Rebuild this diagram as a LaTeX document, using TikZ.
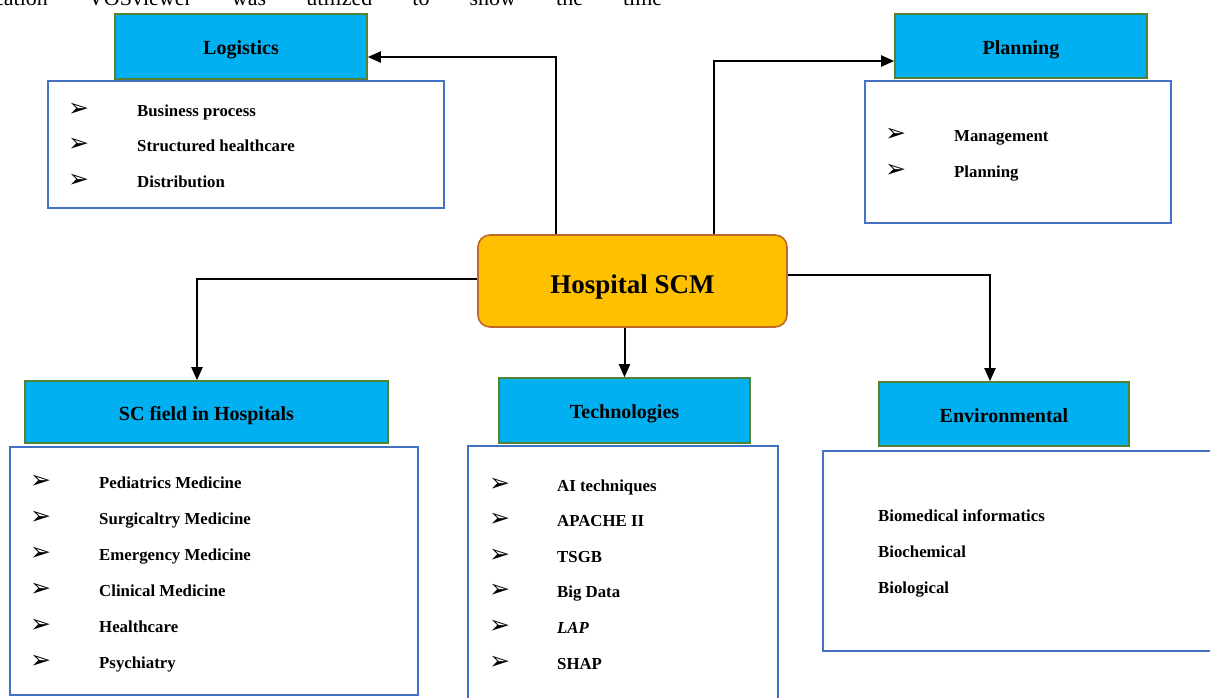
\documentclass[tikz,border=0pt]{standalone}
\usepackage{fontspec}
\setmainfont{Liberation Serif}
\newfontfamily\dingfont{DejaVu Sans}
\usepackage{tikz}
\usetikzlibrary{arrows.meta, positioning}
\definecolor{HDRcyan}{RGB}{0,176,240}
\definecolor{HDRgreen}{RGB}{84,130,53}
\definecolor{LSTblue}{RGB}{68,114,196}
\definecolor{HUBgold}{RGB}{255,192,0}
\definecolor{HUBbrown}{RGB}{192,103,43}
\newcommand{\itembullet}{{\dingfont\char"27A2}}

\begin{document}
\begin{tikzpicture}[x=1pt, y=-1pt,
    hdr/.style={draw=HDRgreen, fill=HDRcyan, line width=1.6pt, text height=18pt, text depth=2pt, font=\fontsize{20}{24}\selectfont\bfseries},
    lstbox/.style={draw=LSTblue, line width=1.6pt, fill=white},
    hub/.style={draw=HUBbrown, fill=HUBgold, line width=1.6pt, rounded corners=12pt, text height=26pt, text depth=2pt, font=\fontsize{27}{32}\selectfont\bfseries},
    itm/.style={anchor=base west, inner sep=0pt, font=\fontsize{16.8}{20}\selectfont\bfseries},
    bul/.style={anchor=base west, inner sep=0pt, font=\fontsize{25}{28}\selectfont},
    arr/.style={-{Triangle[length=13pt,width=11pt]}, line width=2pt}]
  \useasboundingbox (0,0) rectangle (1210,697);
  \clip (0,0) rectangle (1210,697);
  % text line of the page above the figure
  \node[anchor=base west, inner sep=0pt, font=\fontsize{22}{26}\selectfont] (pagetext) at (-6,5)
    {\hbox to 668pt{cation\hfill VOSviewer\hfill was\hfill utilized\hfill to\hfill show\hfill the\hfill time}};

  % list boxes
  \node[lstbox, minimum width=396, minimum height=127] (logilist) at (246,144.5) {};
  \node[lstbox, minimum width=306, minimum height=142] (planlist) at (1018,152) {};
  \node[lstbox, minimum width=408, minimum height=248] (sclist) at (214,571) {};
  \node[lstbox, minimum width=310, minimum height=260] (techlist) at (623,576) {};
  \node[lstbox, minimum width=400, minimum height=200] (envlist) at (1023,551) {};

  % headers
  \node[hdr, minimum width=252, minimum height=65] (logi) at (241,46.5) {Logistics};
  \node[hdr, minimum width=252, minimum height=64] (plan) at (1021,46) {Planning};
  \node[hdr, minimum width=363, minimum height=62] (scfield) at (206.5,412) {SC field in Hospitals};
  \node[hdr, minimum width=251, minimum height=65] (tech) at (624.5,410.5) {Technologies};
  \node[hdr, minimum width=250, minimum height=64] (env) at (1004,414) {Environmental};

  % centre
  \node[hub, minimum width=309, minimum height=92] (hub) at (632.5,281) {Hospital SCM};

  % items
  \foreach \txt [count=\k] in {Business process, Structured healthcare, Distribution}{
    \node[bul] (logib\k) at (68,{116+(\k-1)*35.5}) {\itembullet};
    \node[itm] (logii\k) at (137,{116+(\k-1)*35.5}) {\txt};
  }
  \foreach \txt [count=\k] in {Management, Planning}{
    \node[bul] (planb\k) at (885,{141.5+(\k-1)*36}) {\itembullet};
    \node[itm] (plani\k) at (954,{141.5+(\k-1)*36}) {\txt};
  }
  \foreach \txt [count=\k] in {Pediatrics Medicine, Surgicaltry Medicine, Emergency Medicine, Clinical Medicine, Healthcare, Psychiatry}{
    \node[bul] (scb\k) at (30,{488+(\k-1)*36}) {\itembullet};
    \node[itm] (sci\k) at (99,{488+(\k-1)*36}) {\txt};
  }
  \foreach \txt [count=\k] in {AI techniques, APACHE II, TSGB, Big Data, \textit{LAP}, SHAP}{
    \node[bul] (techb\k) at (489,{491+(\k-1)*35.6}) {\itembullet};
    \node[itm] (techi\k) at (557,{491+(\k-1)*35.6}) {\txt};
  }
  \foreach \txt [count=\k] in {Biomedical informatics, Biochemical, Biological}{
    \node[itm] (envi\k) at (878,{521.5+(\k-1)*36}) {\txt};
  }

  % connectors
  \draw[arr] ([xshift=-76.5pt]hub.north) |- ([yshift=-10.5pt]logi.east);
  \draw[arr] ([xshift=81.5pt]hub.north) |- ([yshift=-15pt]plan.west);
  \draw[arr] ([yshift=2pt]hub.west) -| ([xshift=-9.5pt]scfield.north);
  \draw[arr] (hub.south -| tech.north) -- (tech.north);
  \draw[arr] ([yshift=6pt]hub.east) -| ([xshift=-14pt]env.north);
\end{tikzpicture}
\end{document}
